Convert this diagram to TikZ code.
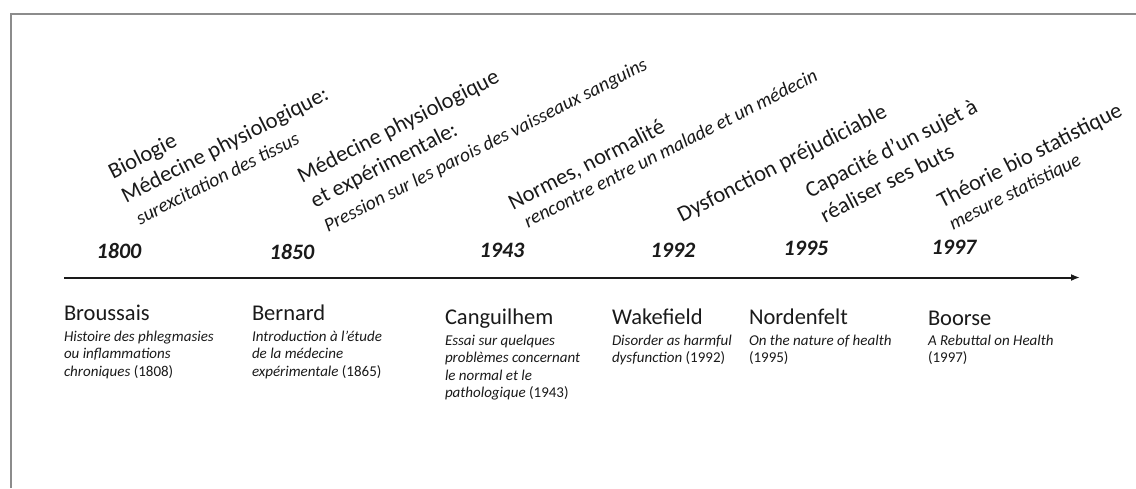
\documentclass[tikz,border=0pt]{standalone}
\usepackage{fontspec}
\setmainfont{Carlito}
\usetikzlibrary{arrows.meta}
\definecolor{txt}{HTML}{1A1A1A}
\definecolor{framegray}{HTML}{8C8C8C}
\begin{document}
\begin{tikzpicture}[x=1pt,y=-1pt,
  every node/.style={inner sep=0pt, outer sep=0pt, text=txt},
  concept/.style={anchor=base west, rotate=27, font=\fontsize{22.5}{26}\selectfont},
  gloss/.style={anchor=base west, rotate=27, font=\fontsize{19.5}{23}\selectfont\itshape},
  year/.style={anchor=base, font=\fontsize{22}{26}\selectfont\bfseries\itshape},
  author/.style={anchor=base west, font=\fontsize{22.5}{26}\selectfont},
  work/.style={anchor=base west, font=\fontsize{15}{18}\selectfont},
  axis/.style={line width=2pt, draw=txt, -{Latex[length=9pt,width=7pt]}},
  framestyle/.style={line width=2pt, draw=framegray}
]
\useasboundingbox (0,0) rectangle (1136,488);
\coordinate (fa) at (10.5,488);
\coordinate (fb) at (10.5,13.7);
\coordinate (fc) at (1136,13.7);
\draw[framestyle] (fa) -- (fb) -- (fc);

% timeline
\coordinate (t0) at (64,277.5);
\coordinate (t1) at (1080,277.5);
\draw[axis] (t0) -- (t1);

% years
\node[year] (y1) at (119,258) {1800};
\node[year] (y2) at (292,259) {1850};
\node[year] (y3) at (502,257) {1943};
\node[year] (y4) at (673,257) {1992};
\node[year] (y5) at (806,255) {1995};
\node[year] (y6) at (954,254) {1997};

% rotated concepts
\node[concept] (c1a) at (113,179) {Biologie};
\node[concept] (c1b) at (126,203) {Médecine physiologique:};
\node[gloss]   (c1c) at (140,225) {surexcitation des tissus};

\node[concept] (c2a) at (302,183) {Médecine physiologique};
\node[concept] (c2b) at (315,208) {et expérimentale:};
\node[gloss]   (c2c) at (328,232) {Pression sur les parois des vaisseaux sanguins};

\node[concept] (c3a) at (513,210) {Normes, normalité};
\node[gloss]   (c3b) at (528,228) {rencontre entre un malade et un médecin};

\node[concept] (c4a) at (682,222) {Dysfonction préjudiciable};

\node[concept] (c5a) at (810,198) {Capacité d’un sujet à};
\node[concept] (c5b) at (825,223) {réaliser ses buts};

\node[concept] (c6a) at (942,208) {Théorie bio statistique};
\node[gloss]   (c6b) at (953,230) {mesure statistique};

% authors and works
\node[author] (a1) at (64,320) {Broussais};
\node[work] (w1a) at (64,341) {\textit{Histoire des phlegmasies}};
\node[work] (w1b) at (64,358.5) {\textit{ou inflammations}};
\node[work] (w1c) at (64,376) {\textit{chroniques} (1808)};

\node[author] (a2) at (252,320) {Bernard};
\node[work] (w2a) at (252,341) {\textit{Introduction à l’étude}};
\node[work] (w2b) at (252,358.5) {\textit{de la médecine}};
\node[work] (w2c) at (252,376) {\textit{expérimentale} (1865)};

\node[author] (a3) at (445,324) {Canguilhem};
\node[work] (w3a) at (445,345) {\textit{Essai sur quelques}};
\node[work] (w3b) at (445,362.5) {\textit{problèmes concernant}};
\node[work] (w3c) at (445,380) {\textit{le normal et le}};
\node[work] (w3d) at (445,397.5) {\textit{pathologique} (1943)};

\node[author] (a4) at (612,324) {Wakefield};
\node[work] (w4a) at (612,345) {\textit{Disorder as harmful}};
\node[work] (w4b) at (612,362.5) {\textit{dysfunction} (1992)};

\node[author] (a5) at (749,324) {Nordenfelt};
\node[work] (w5a) at (749,345) {\textit{On the nature of health}};
\node[work] (w5b) at (749,362.5) {(1995)};

\node[author] (a6) at (928,325) {Boorse};
\node[work] (w6a) at (928,345) {\textit{A Rebuttal on Health}};
\node[work] (w6b) at (928,362.5) {(1997)};
\end{tikzpicture}
\end{document}
